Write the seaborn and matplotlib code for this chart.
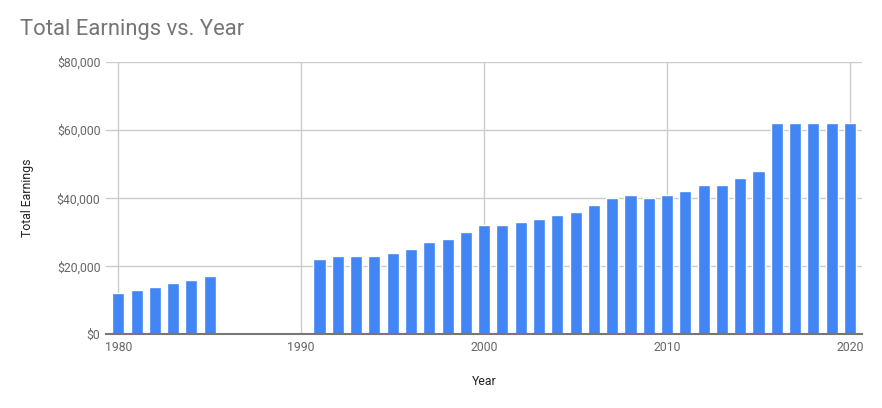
import matplotlib
matplotlib.use("Agg")
import matplotlib.pyplot as plt
import seaborn as sns
import numpy as np
from matplotlib.ticker import FuncFormatter

years = [1980, 1981, 1982, 1983, 1984, 1985,
         1991, 1992, 1993, 1994, 1995, 1996, 1997, 1998, 1999, 2000,
         2001, 2002, 2003, 2004, 2005, 2006, 2007, 2008, 2009, 2010,
         2011, 2012, 2013, 2014, 2015, 2016, 2017, 2018, 2019, 2020]
earnings = [12000, 13000, 14000, 15000, 16000, 17000,
            22000, 23000, 23000, 23000, 24000, 25000, 27000, 28000, 30000, 32000,
            32000, 33000, 34000, 35000, 36000, 38000, 40000, 41000, 40000, 41000,
            42000, 44000, 44000, 46000, 48000, 62000, 62000, 62000, 62000, 62000]
x_ticks = [1980, 1990, 2000, 2010, 2020]
y_ticks = [0, 20000, 40000, 60000, 80000]

sns.set_style("white")
plt.rcParams['font.family'] = ['Roboto', 'DejaVu Sans']

fig = plt.figure(figsize=(8.82, 4.08), dpi=100)
ax = fig.add_axes([106 / 882, (408 - 334.3) / 408, (861.7 - 106) / 882, (334.3 - 62) / 408])

sns.barplot(x=years, y=earnings, native_scale=True, width=0.66,
            color='#4285f4', saturation=1, ax=ax, zorder=3)

ax.set_xlim(1979.33, 2020.64)
ax.set_ylim(0, 80000)
ax.set_xticks(x_ticks)
ax.set_yticks(y_ticks)
ax.yaxis.set_major_formatter(FuncFormatter(lambda v, p: f"${v:,.0f}"))
ax.grid(True, color='#cccccc', linewidth=1)
ax.set_axisbelow(True)
for s in ['top', 'right', 'left']:
    ax.spines[s].set_visible(False)
ax.spines['bottom'].set_color('#777777')
ax.spines['bottom'].set_linewidth(1.5)
ax.spines['bottom'].set_zorder(4)
ax.tick_params(axis='both', length=0, labelsize=8.8, colors='#666666')
ax.tick_params(axis='y', pad=4)
ax.tick_params(axis='x', pad=5)

ax.set_xlabel('Year', fontsize=8.8, color='#222222', labelpad=15)
ax.set_ylabel('Total Earnings', fontsize=8.8, color='#222222', labelpad=16)
fig.text(20 / 882, 1 - 30 / 408, 'Total Earnings vs. Year', fontsize=15.8,
         color='#757575', ha='left', va='center')

fig.savefig('out.png', dpi=100)
